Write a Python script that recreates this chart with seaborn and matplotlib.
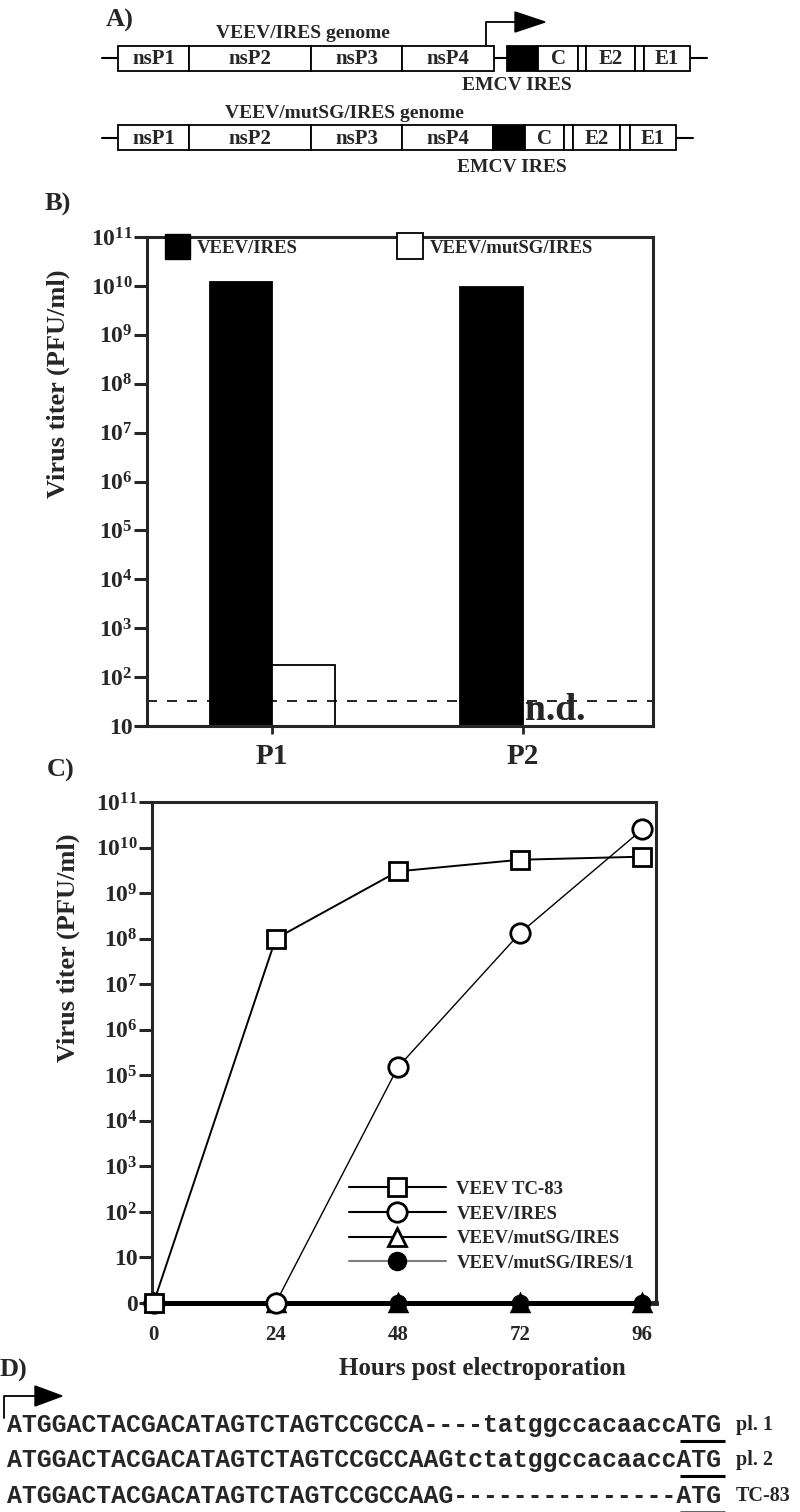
import numpy as np
import pandas as pd
import matplotlib
matplotlib.use('Agg')
import matplotlib.pyplot as plt
import seaborn as sns
from matplotlib.patches import Rectangle, Polygon
from matplotlib.lines import Line2D
from matplotlib.ticker import NullLocator, FixedLocator

# panel A: genome maps (segment names and widths)
genome1_parts = ['nsP1', 'nsP2', 'nsP3', 'nsP4', 'gap', 'IRES', 'C', '', 'E2', '', 'E1']
genome1_widths = [71, 122, 91, 92, 13, 31, 40, 8, 49, 9, 46]
genome2_parts = ['nsP1', 'nsP2', 'nsP3', 'nsP4', 'IRES', 'C', '', 'E2', '', 'E1']
genome2_widths = [71, 122, 91, 91, 32, 39, 9, 47, 10, 46]

# panel B: titers after passage
passages = ['P1', 'P2']
ires_titer = [1.2e10, 9.4e9]
mutsg_titer = [174, np.nan]
detect_limit = 32

# panel C: growth curves (0 = not detected)
hours = [0, 24, 48, 72, 96]
tc83 = [0, 1.0e8, 3.0e9, 5.4e9, 6.3e9]
ires = [0, 0, 1.5e5, 1.33e8, 2.5e10]
mutsg = [0, 0, 0, 0, 0]
mutsg1 = [0, 0, 0, 0, 0]

# panel D: sequences
seq_rows = ['ATGGACTACGACATAGTCTAGTCCGCCA----tatggccacaaccATG',
            'ATGGACTACGACATAGTCTAGTCCGCCAAGtctatggccacaaccATG',
            'ATGGACTACGACATAGTCTAGTCCGCCAAG---------------ATG']
seq_names = ['pl. 1', 'pl. 2', 'TC-83']

sns.set_style('ticks')
plt.rcParams['font.family'] = ['Liberation Serif', 'DejaVu Serif']
plt.rcParams['font.weight'] = 'bold'
plt.rcParams['mathtext.fontset'] = 'custom'
plt.rcParams['mathtext.rm'] = 'Liberation Serif:bold'
plt.rcParams['mathtext.it'] = 'Liberation Serif:bold'
plt.rcParams['mathtext.bf'] = 'Liberation Serif:bold'
plt.rcParams['mathtext.default'] = 'bf'

fig = plt.figure(figsize=(8, 15.12), dpi=100)
canvas = fig.add_axes([0, 0, 1, 1])
canvas.set_xlim(0, 800)
canvas.set_ylim(1512, 0)
canvas.axis('off')


def draw_genome(ax, y, x0, parts, widths, line_from, line_to, h=25):
    ax.plot([line_from, line_to], [y, y], color='black', lw=1.5, zorder=1)
    x = x0
    for name, w in zip(parts, widths):
        if name == 'IRES':
            ax.add_patch(Rectangle((x, y - h / 2), w, h, fc='black', ec='black', lw=1.3, zorder=2))
        elif name != 'gap':
            ax.add_patch(Rectangle((x, y - h / 2), w, h, fc='white', ec='black', lw=1.3, zorder=2))
            if name:
                ax.text(x + w / 2, y + 1, name, ha='center', va='center', fontsize=15,
                        fontweight='bold', zorder=3)
        x += w


def draw_arrow(ax, x, y0, y1, x1, tip, half):
    ax.plot([x, x, x1], [y0, y1, y1], color='black', lw=1.3)
    ax.add_patch(Polygon([[x1, y1 - half], [tip, y1], [x1, y1 + half]], closed=True,
                         fc='black', ec='black'))


# ---- panel A
canvas.text(106, 20, 'A)', fontsize=19, fontweight='bold', va='center')
canvas.text(303, 34, 'VEEV/IRES genome', fontsize=14, fontweight='bold', ha='center', va='center')
draw_genome(canvas, 58, 118, genome1_parts, genome1_widths, 102, 707)
draw_arrow(canvas, 486, 46, 22, 515, 545, 10)
canvas.text(517, 86, 'EMCV IRES', fontsize=14, fontweight='bold', ha='center', va='center')
canvas.text(344, 113, 'VEEV/mutSG/IRES genome', fontsize=14, fontweight='bold', ha='center', va='center')
draw_genome(canvas, 137.5, 118, genome2_parts, genome2_widths, 102, 693)
canvas.text(512, 167, 'EMCV IRES', fontsize=14, fontweight='bold', ha='center', va='center')

# ---- panel B
canvas.text(45, 204, 'B)', fontsize=19, fontweight='bold', va='center')
axb = fig.add_axes([147 / 800, 1 - 726 / 1512, 506 / 800, 489 / 1512])
dfb = pd.DataFrame({'passage': passages * 2,
                    'virus': ['VEEV/IRES'] * 2 + ['VEEV/mutSG/IRES'] * 2,
                    'titer': ires_titer + mutsg_titer})
axb.set_yscale('log')
sns.barplot(data=dfb, x='passage', y='titer', hue='virus', palette=['black', 'white'],
            edgecolor='black', linewidth=1.3, width=0.5, errorbar=None, ax=axb)
axb.axhline(detect_limit, color='black', lw=1.2, ls=(0, (6, 6)))
axb.text(1.01, 21, 'n.d.', fontsize=27, fontweight='bold', ha='left', va='center')
axb.set_ylim(10, 1e11)
axb.set_xlim(-0.5, 1.52)
btick = 10.0 ** np.arange(1, 12)
axb.yaxis.set_major_locator(FixedLocator(btick))
axb.yaxis.set_minor_locator(NullLocator())
axb.set_yticklabels(['10'] + [r'$10^{%d}$' % k for k in range(2, 12)])
axb.tick_params(axis='y', direction='out', length=9.5, width=2.2, labelsize=17, pad=1)
axb.tick_params(axis='x', direction='out', length=6, width=2, labelsize=21, pad=6)
for s in axb.spines.values():
    s.set_linewidth(2.2)
axb.set_xlabel('')
axb.set_ylabel('Virus titer (PFU/ml)', fontsize=19, fontweight='bold')
axb.yaxis.set_label_coords(-0.152, 0.70)
axb.get_legend().remove()
hb = [Line2D([], [], marker='s', ls='', ms=18, mfc='black', mec='black'),
      Line2D([], [], marker='s', ls='', ms=19, mfc='white', mec='black', mew=1.3)]
axb.legend(hb, ['VEEV/IRES', 'VEEV/mutSG/IRES'], ncol=2, loc='upper left',
           bbox_to_anchor=(0.033, 0.995), frameon=False, borderaxespad=0, borderpad=0,
           handlelength=1.4, handletextpad=0.35, columnspacing=5.3,
           prop={'size': 13.5, 'weight': 'bold'})

# ---- panel C
canvas.text(47, 770, 'C)', fontsize=19, fontweight='bold', va='center')
axc = fig.add_axes([152 / 800, 1 - 1303 / 1512, 504 / 800, 501 / 1512])
axc.set_yscale('log')


def shown(vals):
    # undetectable titers sit on the "0" line at the bottom of the log axis
    return [v if v > 0 else 1 for v in vals]


sns.lineplot(x=hours, y=shown(mutsg), color='black', lw=3.5, marker='^', ms=12,
             mfc='white', mec='black', mew=2.5, clip_on=False, zorder=3, ax=axc)
sns.lineplot(x=hours, y=shown(mutsg1), color='black', lw=3.5, marker='o', ms=12,
             mfc='black', mec='black', clip_on=False, zorder=4, ax=axc)
sns.lineplot(x=hours, y=shown(ires), color='black', lw=1.0, marker='o', ms=14,
             mfc='white', mec='black', mew=2, clip_on=False, zorder=5, ax=axc)
sns.lineplot(x=hours, y=shown(tc83), color='black', lw=1.4, marker='s', ms=13,
             mfc='white', mec='black', mew=2, clip_on=False, zorder=6, ax=axc)
axc.set_xlim(-0.3, 98.7)
axc.set_ylim(1, 1e11)
ctick = 10.0 ** np.arange(0, 12)
axc.yaxis.set_major_locator(FixedLocator(ctick))
axc.yaxis.set_minor_locator(NullLocator())
axc.set_yticklabels(['0', '10'] + [r'$10^{%d}$' % k for k in range(2, 12)])
axc.set_xticks(hours)
axc.set_xticklabels([str(h) for h in hours])
axc.tick_params(axis='y', direction='out', length=9.5, width=2.2, labelsize=17, pad=1)
axc.tick_params(axis='x', direction='out', length=5, width=2, labelsize=15, pad=11)
for s in axc.spines.values():
    s.set_linewidth(2.2)
axc.spines['bottom'].set_linewidth(3.5)
axc.set_ylabel('Virus titer (PFU/ml)', fontsize=19, fontweight='bold')
axc.yaxis.set_label_coords(-0.143, 0.71)
axc.set_xlabel('Hours post electroporation', fontsize=18, fontweight='bold')
axc.xaxis.set_label_coords(0.655, -0.108)
hc = [Line2D([], [], color='black', lw=1.5, marker='s', ms=13, mfc='white', mec='black', mew=2),
      Line2D([], [], color='black', lw=1.5, marker='o', ms=14, mfc='white', mec='black', mew=2),
      Line2D([], [], color='black', lw=1.5, marker='^', ms=13, mfc='white', mec='black', mew=2),
      Line2D([], [], color='0.5', lw=1.5, marker='o', ms=13, mfc='black', mec='black')]
axc.legend(hc, ['VEEV TC-83', 'VEEV/IRES', 'VEEV/mutSG/IRES', 'VEEV/mutSG/IRES/1'],
           loc='upper left', bbox_to_anchor=(0.39, 0.244), frameon=False, borderaxespad=0,
           borderpad=0, handlelength=5.2, handletextpad=0.55, labelspacing=0.4, numpoints=1,
           prop={'size': 13.5, 'weight': 'bold'})

# ---- panel D
canvas.text(0, 1370, 'D)', fontsize=19, fontweight='bold', va='center')
draw_arrow(canvas, 4, 1418, 1396, 35, 62, 10)
char_w = 14.95
x0 = 7
baselines = [1432, 1467, 1503]
for row, name, yb in zip(seq_rows, seq_names, baselines):
    canvas.text(x0, yb, row, family=['Liberation Mono', 'DejaVu Sans Mono'], fontweight='bold',
                fontsize=17.9, ha='left', va='baseline')
    canvas.text(736, yb - 2, name, fontsize=14.5, fontweight='bold', ha='left', va='baseline')
    n = len(row)
    canvas.plot([x0 + (n - 3) * char_w, x0 + n * char_w], [yb + 9, yb + 9],
                color='black' if name != 'TC-83' else '0.4', lw=2.2, solid_capstyle='butt')

fig.savefig('out.png', dpi=100)
